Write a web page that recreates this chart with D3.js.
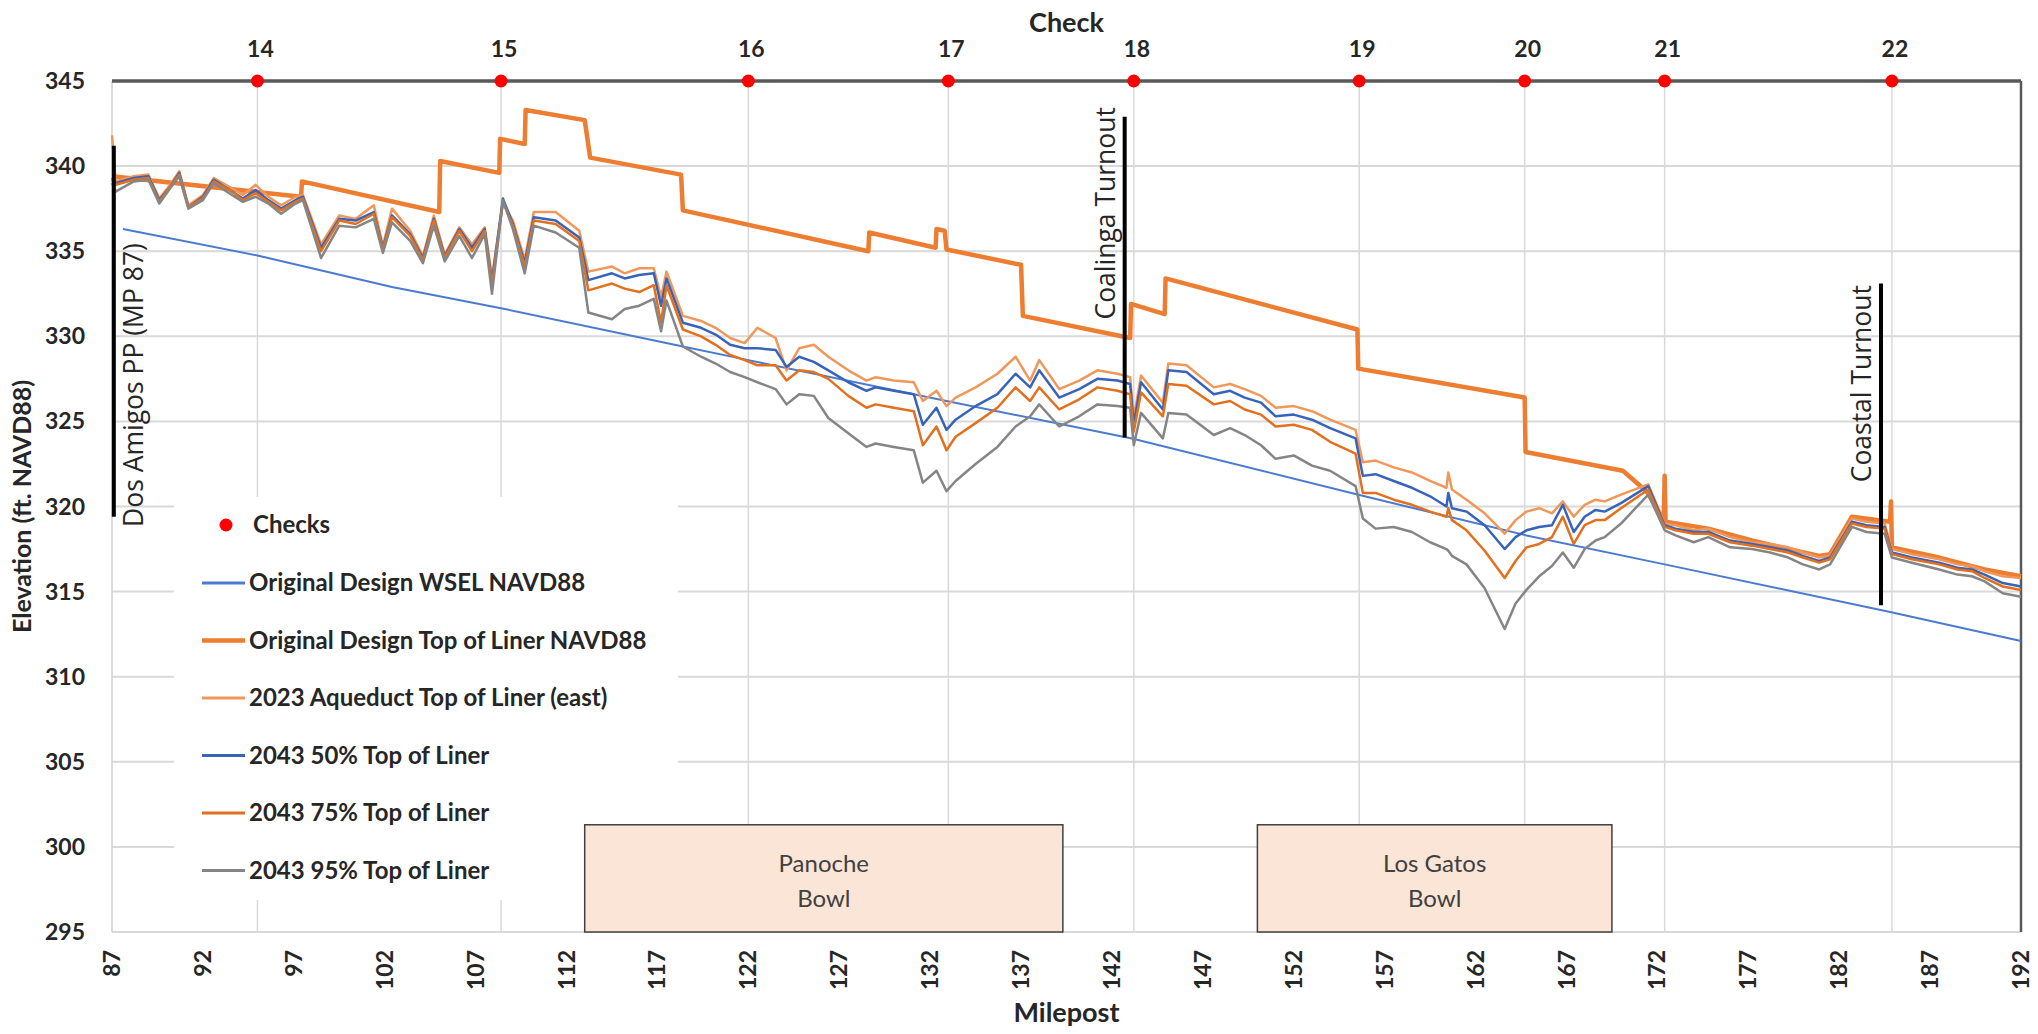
<!DOCTYPE html>
<html lang="en">
<head>
<meta charset="utf-8">
<script src="https://d3js.org/d3.v7.min.js"></script>
<style>
  body { margin: 0; background: #fff; font-family: Lato, sans-serif; }
  .tick-label { font-size: 23px; font-weight: 700; fill: #262626; }
  .axis-title { font-size: 27px; font-weight: 700; fill: #262626; }
  .legend-text { font-size: 24px; font-weight: 700; fill: #262626; }
  .note { font-family: 'Open Sans', sans-serif; font-size: 26.5px; fill: #262626; }
  .bowl-text { font-size: 24px; fill: #404040; }
</style>
</head>
<body>
<div id="chart"></div>
<script>

// ---------------- data ----------------
var mileposts = [
  87.0, 87.2, 88.2, 89.0, 89.6, 90.2, 90.7, 91.2, 92.0, 92.6,
  93.6, 94.2, 94.9, 95.6, 96.3, 97.1, 97.5, 98.5, 99.5, 100.4,
  101.4, 101.9, 102.4, 103.4, 104.1, 104.7, 105.3, 106.1, 106.8, 107.5,
  107.9, 108.5, 109.05, 109.7, 110.2, 111.4, 112.7, 113.2, 114.5, 115.2,
  116.0, 116.8, 117.2, 117.5, 118.4, 119.4, 120.2, 121.0, 121.8, 122.5,
  123.5, 124.1, 124.8, 125.6, 126.4, 127.5, 128.5, 129.0, 130.0, 131.1,
  131.6, 132.35, 132.9, 133.4, 134.5, 135.7, 136.7, 137.5, 138.0, 139.1,
  140.2, 141.2, 142.3, 143.0, 143.2, 143.6, 144.8, 145.1, 146.1, 147.6,
  148.5, 149.3, 150.2, 151.0, 152.0, 153.0, 154.0, 155.4, 155.8, 156.5,
  157.5, 158.5, 159.5, 160.4, 160.5, 160.7, 161.5, 162.5, 163.6, 164.2,
  164.8, 165.5, 166.2, 166.8, 167.4, 168.0, 168.6, 169.1, 170.0, 171.5,
  172.4, 173.0, 174.0, 174.8, 176.0, 177.2, 178.2, 179.2, 180.0, 180.9,
  181.5, 182.7, 183.5, 184.5, 184.9, 186.0, 187.5, 188.5, 189.3, 190.0,
  191.0, 192.0
];

var aqueduct2023 = [
  341.8, 339.1, 339.4, 339.5, 338.1, 338.9, 339.7, 337.7, 338.3, 339.3,
  338.7, 338.3, 338.9, 338.2, 337.7, 338.2, 338.3, 335.4, 337.1, 336.9,
  337.7, 335.3, 337.5, 336.2, 334.7, 337.1, 334.8, 336.4, 335.4, 336.4,
  333.5, 337.8, 336.8, 334.5, 337.3, 337.3, 336.2, 333.8, 334.1, 333.7,
  334.0, 334.0, 332.3, 333.8, 331.2, 330.9, 330.5, 329.9, 329.6, 330.5,
  329.9, 328.0, 329.3, 329.5, 328.8, 328.0, 327.4, 327.6, 327.4, 327.3,
  326.2, 326.8, 325.9, 326.4, 327.0, 327.8, 328.8, 327.4, 328.6, 326.9,
  327.4, 328.0, 327.8, 327.6, 325.2, 327.7, 326.1, 328.4, 328.3, 327.0,
  327.2, 326.9, 326.5, 325.8, 325.9, 325.6, 325.1, 324.5, 322.6, 322.7,
  322.3, 322.0, 321.5, 321.1, 322.0, 321.0, 320.4, 319.6, 318.4, 319.2,
  319.7, 319.9, 319.6, 320.3, 319.4, 320.1, 320.4, 320.3, 320.7, 321.3,
  319.0, 318.9, 318.6, 318.7, 318.2, 317.9, 317.8, 317.6, 317.3, 317.0,
  317.1, 319.3, 319.1, 319.0, 317.5, 317.2, 316.9, 316.6, 316.5, 316.2,
  315.9, 315.8
];

var liner2043p50 = [
  339.3, 339.0, 339.3, 339.4, 338.0, 338.8, 339.6, 337.6, 338.2, 339.2,
  338.5, 338.1, 338.6, 338.0, 337.5, 338.0, 338.2, 335.2, 336.9, 336.8,
  337.3, 335.2, 337.1, 336.0, 334.6, 336.9, 334.7, 336.3, 335.2, 336.3,
  333.2, 338.1, 336.6, 334.3, 337.0, 336.8, 335.8, 333.3, 333.7, 333.4,
  333.6, 333.7, 331.8, 333.4, 330.8, 330.5, 330.1, 329.5, 329.3, 329.3,
  329.2, 328.2, 328.8, 328.5, 328.0, 327.3, 326.8, 327.0, 326.8, 326.6,
  324.8, 325.8, 324.5, 325.1, 325.9, 326.6, 327.8, 327.0, 328.0, 326.4,
  326.9, 327.5, 327.4, 327.2, 324.8, 327.3, 325.7, 328.0, 327.9, 326.6,
  326.8, 326.4, 326.1, 325.3, 325.4, 325.1, 324.6, 324.0, 321.8, 321.9,
  321.5, 321.1, 320.6, 320.0, 320.8, 319.9, 319.7, 318.9, 317.5, 318.2,
  318.6, 318.8, 318.9, 320.1, 318.5, 319.4, 319.8, 319.7, 320.2, 321.2,
  318.9, 318.7, 318.5, 318.5, 318.0, 317.8, 317.6, 317.4, 317.1, 316.8,
  317.0, 319.1, 318.9, 318.8, 317.3, 317.0, 316.7, 316.4, 316.3, 316.0,
  315.5, 315.3
];

var liner2043p75 = [
  339.2, 338.9, 339.2, 339.3, 337.9, 338.8, 339.5, 337.6, 338.1, 339.1,
  338.5, 338.0, 338.4, 337.9, 337.4, 337.9, 338.1, 335.0, 336.8, 336.6,
  337.2, 335.1, 337.0, 335.9, 334.5, 336.8, 334.6, 336.2, 335.0, 336.2,
  333.0, 337.9, 336.5, 334.1, 336.8, 336.6, 335.6, 332.7, 333.1, 332.8,
  332.6, 333.0, 330.8, 333.0, 330.4, 330.0, 329.5, 328.9, 328.6, 328.3,
  328.3, 327.4, 328.0, 327.9, 327.5, 326.5, 325.8, 326.0, 325.8, 325.6,
  323.6, 324.7, 323.3, 324.1, 324.9, 325.8, 327.0, 326.2, 327.0, 325.7,
  326.3, 327.0, 326.8, 326.6, 324.4, 326.7, 325.3, 327.2, 327.1, 326.0,
  326.2, 325.7, 325.4, 324.7, 324.8, 324.5, 323.8, 323.1, 320.8, 320.8,
  320.4, 320.1, 319.7, 319.4, 319.9, 319.2, 318.6, 317.4, 315.8, 316.8,
  317.6, 317.8, 318.2, 319.4, 317.8, 318.9, 319.2, 319.2, 319.9, 321.0,
  318.8, 318.6, 318.4, 318.4, 317.9, 317.7, 317.5, 317.3, 317.0, 316.7,
  316.9, 319.0, 318.8, 318.7, 317.2, 316.9, 316.6, 316.3, 316.2, 315.8,
  315.3, 315.1
];

var liner2043p95 = [
  339.0, 338.5, 339.1, 339.2, 337.8, 338.7, 339.4, 337.5, 338.0, 339.0,
  338.3, 337.9, 338.2, 337.8, 337.2, 337.8, 338.0, 334.6, 336.5, 336.4,
  336.9, 334.9, 336.7, 335.6, 334.3, 336.5, 334.4, 335.9, 334.6, 336.0,
  332.5, 338.0, 336.3, 333.7, 336.5, 336.1, 335.2, 331.4, 331.0, 331.6,
  331.8, 332.2, 330.3, 332.1, 329.4, 328.8, 328.4, 327.9, 327.6, 327.3,
  326.9, 326.0, 326.6, 326.5, 325.2, 324.3, 323.5, 323.7, 323.5, 323.3,
  321.4, 322.1, 320.9, 321.5, 322.5, 323.5, 324.7, 325.3, 326.0, 324.7,
  325.3, 326.0, 325.9, 325.8, 323.6, 325.5, 324.0, 325.5, 325.4, 324.2,
  324.6, 324.2, 323.6, 322.8, 323.0, 322.4, 322.1, 321.2, 319.3, 318.7,
  318.8, 318.5, 317.9, 317.5, 317.4, 317.1, 316.6, 315.2, 312.8, 314.3,
  315.1, 315.9, 316.5, 317.3, 316.4, 317.5, 318.0, 318.2, 319.0, 320.7,
  318.6, 318.3, 317.9, 318.2, 317.6, 317.5, 317.3, 317.0, 316.6, 316.3,
  316.6, 318.8, 318.5, 318.4, 317.0, 316.7, 316.3, 316.0, 315.9, 315.6,
  314.9, 314.7
];

// original design top of liner (step profile)
var designLinerMP = [
  87.0, 97.4, 97.45, 105.0, 105.05, 108.3, 108.35, 109.7, 109.75, 113.0,
  113.3, 118.3, 118.4, 128.6, 128.65, 132.3, 132.35, 132.8, 132.9, 137.0,
  137.1, 143.0, 143.05, 144.9, 144.95, 155.5, 155.55, 164.7, 164.75, 170.1,
  171.4, 172.35, 172.4, 172.45, 174.8, 177.2, 180.9, 181.5, 182.7, 184.8,
  184.85, 184.9, 187.5, 190.0, 192.0
];
var designLinerElev = [
  339.4, 338.2, 339.1, 337.3, 340.3, 339.6, 341.6, 341.3, 343.3, 342.7,
  340.5, 339.5, 337.4, 335.0, 336.1, 335.2, 336.3, 336.2, 335.1, 334.2,
  331.2, 329.9, 331.9, 331.3, 333.4, 330.4, 328.1, 326.4, 323.2, 322.1,
  320.9, 319.2, 321.8, 319.1, 318.7, 318.0, 317.1, 317.2, 319.4, 319.1,
  320.3, 317.6, 317.0, 316.3, 315.9
];

// original design water surface
var designWselMP = [87.6, 95.0, 102.4, 108.4, 118.4, 122.0, 132.9, 143.1, 155.5, 164.8, 172.4, 184.8, 192.0];
var designWselElev = [336.3, 334.75, 332.9, 331.65, 329.4, 328.6, 326.2, 324.0, 320.7, 318.3, 316.6, 313.8, 312.1];

// checks
var checkNames = ["14", "15", "16", "17", "18", "19", "20", "21", "22"];
var checkMP = [95.0, 108.4, 122.0, 133.0, 143.2, 155.6, 164.7, 172.4, 184.9];

// subsidence bowls
var bowlLabels = [["Panoche", "Bowl"], ["Los Gatos", "Bowl"]];
var bowlStartMP = [113.0, 150.0];
var bowlEndMP = [139.3, 169.5];

// turnouts / plants
var turnoutNames = ["Dos Amigos PP (MP 87)", "Coalinga Turnout", "Coastal Turnout"];
var turnoutMP = [87.1, 142.7, 184.3];

// ticks
var milepostTicks = [87, 92, 97, 102, 107, 112, 117, 122, 127, 132, 137, 142, 147, 152, 157, 162, 167, 172, 177, 182, 187, 192];
var elevTicks = [295, 300, 305, 310, 315, 320, 325, 330, 335, 340, 345];

var seriesNames = [
  "Original Design WSEL NAVD88",
  "Original Design Top of Liner NAVD88",
  "2023 Aqueduct Top of Liner (east)",
  "2043 50% Top of Liner",
  "2043 75% Top of Liner",
  "2043 95% Top of Liner"
];

// ---------------- layout ----------------
var width = 2038, height = 1034;
var margin = {left: 112, top: 81, right: 17, bottom: 102};

var x = d3.scaleLinear().domain([87, 192]).range([margin.left, width - margin.right]);
var y = d3.scaleLinear().domain([295, 345]).range([height - margin.bottom, margin.top]);

var svg = d3.select("#chart").append("svg")
  .attr("width", width)
  .attr("height", height);

// gridlines
svg.append("g").selectAll("line")
  .data(elevTicks)
  .enter().append("line")
  .attr("x1", x(87)).attr("x2", x(192))
  .attr("y1", function(d) { return y(d); })
  .attr("y2", function(d) { return y(d); })
  .style("stroke", "#d9d9d9")
  .style("stroke-width", 2);

svg.append("g").selectAll("line")
  .data(checkMP)
  .enter().append("line")
  .attr("x1", function(d) { return x(d); })
  .attr("x2", function(d) { return x(d); })
  .attr("y1", y(345)).attr("y2", y(295))
  .style("stroke", "#d9d9d9")
  .style("stroke-width", 1.5);

// left frame (light), right frame (dark)
svg.append("line").attr("x1", x(87)).attr("x2", x(87)).attr("y1", y(345)).attr("y2", y(295))
  .style("stroke", "#d0d0d0").style("stroke-width", 1.5);
svg.append("line").attr("x1", x(192)).attr("x2", x(192)).attr("y1", y(345)).attr("y2", y(295))
  .style("stroke", "#595959").style("stroke-width", 2.5);

// series lines
var line = d3.line()
  .x(function(d) { return x(d[0]); })
  .y(function(d) { return y(d[1]); });

function pairs(xs, ys) { return xs.map(function(v, i) { return [v, ys[i]]; }); }

svg.append("path")
  .datum(pairs(designWselMP, designWselElev))
  .attr("d", line)
  .style("fill", "none").style("stroke", "#4a7bd0").style("stroke-width", 2);

svg.append("path")
  .datum(pairs(designLinerMP, designLinerElev))
  .attr("d", line)
  .style("fill", "none").style("stroke", "#ed7d31").style("stroke-width", 4.5)
  .style("stroke-linejoin", "round");

var noisy = [
  {vals: aqueduct2023, color: "#f0975a"},
  {vals: liner2043p50, color: "#3763b8"},
  {vals: liner2043p75, color: "#e2701f"},
  {vals: liner2043p95, color: "#858585"}
];

svg.append("g").selectAll("path")
  .data(noisy)
  .enter().append("path")
  .attr("d", function(d) { return line(pairs(mileposts, d.vals)); })
  .style("fill", "none")
  .style("stroke", function(d) { return d.color; })
  .style("stroke-width", 2.5)
  .style("stroke-linejoin", "round");

// turnout markers
var turnoutTop = [341.2, 342.9, 333.1];
var turnoutBottom = [319.4, 324.05, 314.2];
var textCenterX = [134, 1106, 1862];
var textEndY = [527, 107, 285];   // start of text for first, top end for others

var turnouts = svg.append("g").selectAll("g")
  .data(turnoutNames)
  .enter().append("g");

turnouts.append("line")
  .attr("x1", function(d, i) { return x(turnoutMP[i]); })
  .attr("x2", function(d, i) { return x(turnoutMP[i]); })
  .attr("y1", function(d, i) { return y(turnoutTop[i]); })
  .attr("y2", function(d, i) { return y(turnoutBottom[i]); })
  .style("stroke", "#000")
  .style("stroke-width", 4);

turnouts.append("text")
  .attr("class", "note")
  .attr("dy", "0.35em")
  .attr("text-anchor", function(d, i) { return i === 0 ? "start" : "end"; })
  .attr("transform", function(d, i) {
    return "translate(" + textCenterX[i] + "," + textEndY[i] + ") rotate(-90)";
  })
  .text(function(d) { return d; });

// top axis line + checks
svg.append("line").attr("x1", x(87)).attr("x2", x(192)).attr("y1", y(345)).attr("y2", y(345))
  .style("stroke", "#595959").style("stroke-width", 3.5);

svg.append("g").selectAll("circle")
  .data(checkMP)
  .enter().append("circle")
  .attr("cx", function(d) { return x(d); })
  .attr("cy", y(345))
  .attr("r", 6.5)
  .style("fill", "#ff0000");

svg.append("g").selectAll("text")
  .data(checkNames)
  .enter().append("text")
  .attr("class", "tick-label")
  .attr("text-anchor", "middle")
  .attr("x", function(d, i) { return x(checkMP[i]) + 3; })
  .attr("y", 57)
  .text(function(d) { return d; });

// axis labels
svg.append("g").selectAll("text")
  .data(elevTicks)
  .enter().append("text")
  .attr("class", "tick-label")
  .attr("text-anchor", "end")
  .attr("x", margin.left - 27)
  .attr("y", function(d) { return y(d); })
  .attr("dy", "0.35em")
  .text(function(d) { return d; });

svg.append("g").selectAll("text")
  .data(milepostTicks)
  .enter().append("text")
  .attr("class", "tick-label")
  .attr("text-anchor", "end")
  .attr("dy", "0.35em")
  .attr("transform", function(d) { return "translate(" + x(d) + "," + (y(295) + 18) + ") rotate(-90)"; })
  .text(function(d) { return d; });

var midX = (x(87) + x(192)) / 2;
svg.append("text").attr("class", "axis-title").attr("text-anchor", "middle")
  .attr("x", midX).attr("y", 32).text("Check");
svg.append("text").attr("class", "axis-title").attr("text-anchor", "middle")
  .attr("x", midX).attr("y", 1022).text("Milepost");
svg.append("text").attr("class", "axis-title").attr("text-anchor", "middle")
  .attr("dy", "0.35em")
  .style("font-size", "25px")
  .attr("transform", "translate(22," + ((y(295) + y(345)) / 2) + ") rotate(-90)")
  .text("Elevation (ft. NAVD88)");

// legend
var legend = svg.append("g");
legend.append("rect")
  .attr("x", 174).attr("y", 497).attr("width", 504).attr("height", 403)
  .style("fill", "#fff");

var legendColors = ["#4a7bd0", "#ed7d31", "#f0975a", "#3763b8", "#e2701f", "#858585"];
var legendWidths = [3, 4.5, 3, 3, 3, 3];

legend.append("circle").attr("cx", 226).attr("cy", 525).attr("r", 6.5).style("fill", "#ff0000");
legend.append("text").attr("class", "legend-text").attr("x", 253).attr("y", 525).attr("dy", "0.35em").text("Checks");

var items = legend.selectAll("g.item")
  .data(seriesNames)
  .enter().append("g")
  .attr("class", "item")
  .attr("transform", function(d, i) { return "translate(0," + (583 + i * 57.5) + ")"; });

items.append("line")
  .attr("x1", 202).attr("x2", 245)
  .style("stroke", function(d, i) { return legendColors[i]; })
  .style("stroke-width", function(d, i) { return legendWidths[i]; });

items.append("text")
  .attr("class", "legend-text")
  .attr("x", 249)
  .attr("dy", "0.35em")
  .text(function(d) { return d; });

// bowls (drawn last, they sit on top of the legend)
var bowlTop = 301.3;
var bowls = svg.append("g").selectAll("g")
  .data(bowlLabels)
  .enter().append("g");

bowls.append("rect")
  .attr("x", function(d, i) { return x(bowlStartMP[i]); })
  .attr("y", y(bowlTop))
  .attr("width", function(d, i) { return x(bowlEndMP[i]) - x(bowlStartMP[i]); })
  .attr("height", y(295) - y(bowlTop))
  .style("fill", "#fbe5d6")
  .style("stroke", "#404040")
  .style("stroke-width", 1.5);

bowls.each(function(d, i) {
  var cx = (x(bowlStartMP[i]) + x(bowlEndMP[i])) / 2;
  d3.select(this).selectAll("text")
    .data(d)
    .enter().append("text")
    .attr("class", "bowl-text")
    .attr("text-anchor", "middle")
    .attr("x", cx)
    .attr("y", function(t, j) { return y(bowlTop) + 47 + j * 35; })
    .text(function(t) { return t; });
});

</script>
</body>
</html>
